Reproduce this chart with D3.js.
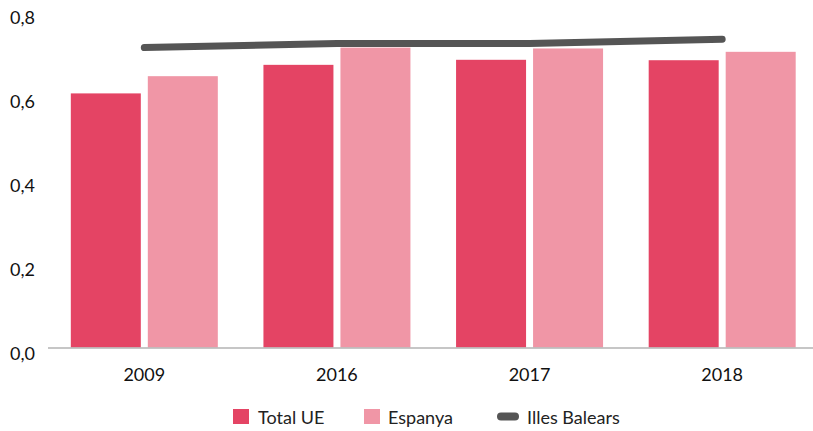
<!DOCTYPE html>
<html>
<head>
<meta charset="utf-8">
<script src="https://cdn.jsdelivr.net/npm/d3@7"></script>
<style>
  body { margin: 0; background: #fff; }
  svg { display: block; font-family: Lato, "Noto Sans", sans-serif; }
</style>
</head>
<body>
<div id="chart"></div>
<script>
// data
const years = ['2009', '2016', '2017', '2018'];
const totalUE = [0.605, 0.673, 0.685, 0.684];
const espanya = [0.646, 0.714, 0.712, 0.704];
const illesBalears = [0.714, 0.724, 0.724, 0.734];
const yTicks = [0, 0.2, 0.4, 0.6, 0.8];

const width = 813, height = 431;
const plot = { left: 48, right: 818.5, top: 11.5, bottom: 347.5 };

const svg = d3.select('#chart').append('svg')
    .attr('width', width)
    .attr('height', height);

// scales
const x = d3.scaleBand().domain(years).range([plot.left, plot.right]);
const y = d3.scaleLinear().domain([0, 0.8]).range([plot.bottom, plot.top]);
const barW = 70, gap = 7;

// y labels (no axis line, no grid)
svg.append('g')
    .selectAll('text')
    .data(yTicks)
    .join('text')
    .attr('x', 35)
    .attr('y', d => y(d) + 12)
    .attr('text-anchor', 'end')
    .attr('font-size', '18px')
    .attr('fill', '#111')
    .text(d => d3.format('.1f')(d).replace('.', ','));

// bars
const groups = svg.append('g')
    .selectAll('g')
    .data(years)
    .join('g')
    .attr('transform', d => `translate(${x(d) + x.bandwidth() / 2},0)`);

groups.append('rect')
    .attr('x', -barW - gap / 2)
    .attr('width', barW)
    .attr('y', (d, i) => y(totalUE[i]))
    .attr('height', (d, i) => y(0) - y(totalUE[i]))
    .attr('fill', '#e44464');

groups.append('rect')
    .attr('x', gap / 2)
    .attr('width', barW)
    .attr('y', (d, i) => y(espanya[i]))
    .attr('height', (d, i) => y(0) - y(espanya[i]))
    .attr('fill', '#f096a6');

// x axis
svg.append('line')
    .attr('x1', plot.left)
    .attr('x2', width)
    .attr('y1', y(0) + 0.5)
    .attr('y2', y(0) + 0.5)
    .attr('stroke', '#b3b3b3')
    .attr('stroke-width', 1.5);

svg.append('g')
    .selectAll('text')
    .data(years)
    .join('text')
    .attr('x', d => x(d) + x.bandwidth() / 2)
    .attr('y', 381)
    .attr('text-anchor', 'middle')
    .attr('font-size', '18px')
    .attr('fill', '#111')
    .text(d => d);

// Illes Balears line
const line = d3.line()
    .x((d, i) => x(years[i]) + x.bandwidth() / 2)
    .y(d => y(d));

svg.append('path')
    .datum(illesBalears)
    .attr('fill', 'none')
    .attr('stroke', '#555555')
    .attr('stroke-width', 7)
    .attr('stroke-linecap', 'round')
    .attr('stroke-linejoin', 'round')
    .attr('d', line);

// legend
const legend = svg.append('g').attr('font-size', '18px').attr('fill', '#222');
legend.append('rect').attr('x', 233).attr('y', 409).attr('width', 16).attr('height', 15).attr('fill', '#e44464');
legend.append('text').attr('x', 258).attr('y', 424).text('Total UE');
legend.append('rect').attr('x', 364).attr('y', 409).attr('width', 16).attr('height', 15).attr('fill', '#f096a6');
legend.append('text').attr('x', 388).attr('y', 424).text('Espanya');
legend.append('line').attr('x1', 501).attr('x2', 515).attr('y1', 416.5).attr('y2', 416.5)
    .attr('stroke', '#555555').attr('stroke-width', 8).attr('stroke-linecap', 'round');
legend.append('text').attr('x', 527).attr('y', 424).text('Illes Balears');
</script>
</body>
</html>
